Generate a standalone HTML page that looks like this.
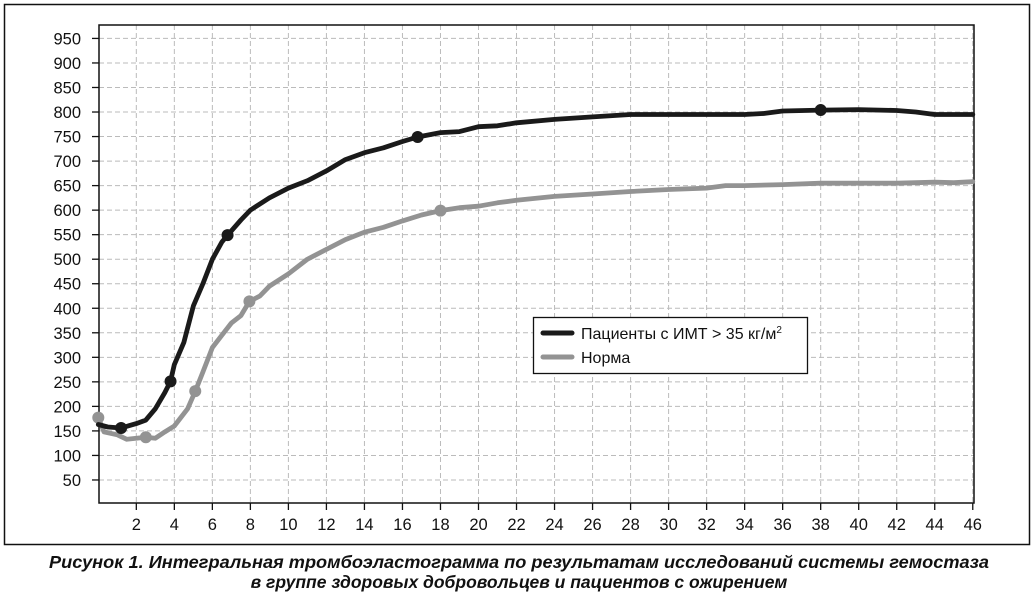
<!DOCTYPE html>
<html><head><meta charset="utf-8"><style>
body{margin:0;background:#fff;width:1036px;height:595px;overflow:hidden;font-family:"Liberation Sans",sans-serif}
</style></head><body>
<svg width="1036" height="595" viewBox="0 0 1036 595" font-family="Liberation Sans, sans-serif">
<rect x="4.5" y="4.5" width="1025" height="540" fill="none" stroke="#111" stroke-width="1.5"/>
<g id="grid"></g>
<g id="axes"></g>
<g id="series"></g>
<g>
<rect x="533.5" y="317.5" width="274" height="56" fill="#fff" stroke="#111" stroke-width="1.3"/>
<line x1="543" y1="333" x2="572" y2="333" stroke="#1a1a1a" stroke-width="5" stroke-linecap="round"/>
<text x="581" y="339" font-size="16" fill="#111">Пациенты с ИМТ &gt; 35 кг/м<tspan font-size="10" dy="-6">2</tspan></text>
<line x1="543" y1="357" x2="572" y2="357" stroke="#939393" stroke-width="5" stroke-linecap="round"/>
<text x="581" y="363" font-size="16" fill="#111">Норма</text>
</g>
<text x="519" y="568" text-anchor="middle" font-size="17.5" font-weight="bold" font-style="italic" fill="#111" textLength="940" lengthAdjust="spacingAndGlyphs">Рисунок 1.  Интегральная тромбоэластограмма по результатам исследований системы гемостаза</text>
<text x="519" y="588" text-anchor="middle" font-size="17.5" font-weight="bold" font-style="italic" fill="#111">в группе здоровых добровольцев и пациентов с ожирением</text>
</svg>
<script>
const xTicks=[2,4,6,8,10,12,14,16,18,20,22,24,26,28,30,32,34,36,38,40,42,44,46];
const yTicks=[50,100,150,200,250,300,350,400,450,500,550,600,650,700,750,800,850,900,950];
const patX=[0,0.5,1.2,2,2.5,3,3.5,3.8,4,4.5,5,5.5,6,6.5,6.8,7.5,8,9,10,11,12,13,14,15,16,16.8,18,19,20,21,22,24,26,28,30,32,34,35,36,38,40,42,43,44,46];
const patY=[163,158,156,165,172,195,228,251,285,330,405,450,500,535,549,580,600,625,645,660,680,703,717,727,740,749,758,760,770,772,778,785,790,795,795,795,795,797,802,804,805,803,800,795,795];
const patMarkX=[1.2,3.8,6.8,16.8,38];
const patMarkY=[156,251,549,749,804];
const normX=[0,0.3,1,1.5,2,2.5,3,3.5,4,4.3,4.7,5.1,5.5,6,6.5,7,7.5,7.95,8.5,9,10,11,12,13,14,15,16,17,18,19,20,21,22,24,26,28,30,32,33,34,36,38,40,42,44,45,46];
const normY=[177,148,142,133,135,137,135,148,160,175,195,231,270,320,345,370,385,414,425,445,470,500,520,540,555,565,578,590,599,605,608,615,620,628,633,638,642,645,650,650,652,655,655,655,657,656,658];
const normMarkX=[0,2.5,5.1,7.95,18];
const normMarkY=[177,137,231,414,599];
const X0=99,XR=974,YT=25,YB=503;
const sx=v=>98.3+v*19.01;
const sy=v=>504.5-v*0.4906;
const NS='http://www.w3.org/2000/svg';
function mk(p,t,a){const e=document.createElementNS(NS,t);for(const k in a)e.setAttribute(k,a[k]);p.appendChild(e);return e;}
const grid=document.getElementById('grid'),axes=document.getElementById('axes'),ser=document.getElementById('series');
yTicks.forEach(v=>{
 const l=mk(grid,'line',{x1:X0,x2:XR,y1:sy(v),y2:sy(v),stroke:'#bbb','stroke-width':1,'stroke-dasharray':'5,3'});
 
 
 const t=mk(axes,'line',{x1:X0-7,x2:X0,y1:sy(v),y2:sy(v),stroke:'#111','stroke-width':1.3});
 
 
 const tx=mk(axes,'text',{x:81,y:sy(v)+6,'text-anchor':'end','font-size':16.5,fill:'#111'});
 tx.textContent=v;
 
 
});
xTicks.forEach(v=>{
 const l=mk(grid,'line',{x1:sx(v),x2:sx(v),y1:YT,y2:YB,stroke:'#bbb','stroke-width':1,'stroke-dasharray':'5,3'});
 
 
 const t=mk(axes,'line',{x1:sx(v),x2:sx(v),y1:YB,y2:YB+7,stroke:'#111','stroke-width':1.3});
 
 
 const tx=mk(axes,'text',{x:sx(v),y:530,'text-anchor':'middle','font-size':16.5,fill:'#111'});
 tx.textContent=v;
 
 
});
const box=mk(axes,'rect',{x:X0,y:YT,width:XR-X0,height:YB-YT,fill:'none',stroke:'#111','stroke-width':1.5});


function drawSeries(xs,ys,mx,my,col,name){
 const d=xs.map((x,i)=>(i?'L':'M')+sx(x).toFixed(1)+','+sy(ys[i]).toFixed(1)).join(' ');
 const p=mk(ser,'path',{d:d,fill:'none',stroke:col,'stroke-width':4.8,'stroke-linejoin':'round','stroke-linecap':'round'});
 
 
 mx.forEach((x,i)=>{
  const c=mk(ser,'circle',{cx:sx(x),cy:sy(my[i]),r:6,fill:col});
  
  
 });
}
drawSeries(normX,normY,normMarkX,normMarkY,'#939393','norm');
drawSeries(patX,patY,patMarkX,patMarkY,'#1a1a1a','patients');
</script>
</body></html>
